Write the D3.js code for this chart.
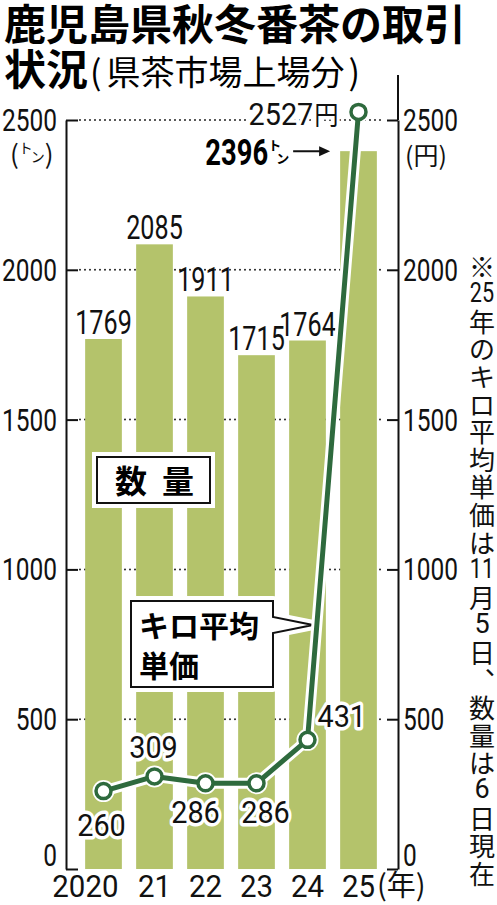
<!DOCTYPE html>
<html>
<head>
<meta charset="utf-8">
<script src="https://cdn.jsdelivr.net/npm/d3@7"></script>
<style>
  body { margin: 0; background: #fff; }
  svg { display: block; }
</style>
</head>
<body>
<div id="chart"></div>
<script>
// data
const years = ["2020", "21", "22", "23", "24", "25"];
const volume = [1769, 2085, 1911, 1715, 1764, 2396];   // トン
const price = [260, 309, 286, 286, 431, 2527];         // 円 (キロ平均単価)
const yTicks = [0, 500, 1000, 1500, 2000, 2500];
// where each price label sits next to its point
const priceLabelSide = ["below", "above", "belowLeft", "belowRight", "right", "left"];
const noteChars = ["※","25","年","の","キ","ロ","平","均","単","価","は","11","月","5","日","︑","数","量","は","6","日","現","在"];

const W = 497, H = 905;
const NUMF = "Roboto, 'Liberation Sans', sans-serif";
const JPF = "'Noto Sans CJK JP', 'Noto Sans', sans-serif";
const barColor = "#b4c36b";
const lineColor = "#2e6a3d";

const svg = d3.select("#chart").append("svg")
  .attr("width", W).attr("height", H);

//--- title
svg.append("text")
  .attr("x", 4).attr("y", 40)
  .attr("font-family", JPF).attr("font-weight", 700).attr("font-size", 42)
  .text("鹿児島県秋冬番茶の取引");
const t2 = svg.append("text")
  .attr("x", 4).attr("y", 85)
  .attr("font-family", JPF);
t2.append("tspan").attr("font-weight", 700).attr("font-size", 42).text("状況");
t2.append("tspan").attr("font-size", 34).attr("dx", 2).text("(");
t2.append("tspan").attr("font-size", 34).attr("dx", 5).text("県茶市場上場分");
t2.append("tspan").attr("font-size", 34).attr("dx", 4).text(")");

//--- scales
const xLeft = 66, xRight = 398;
const x = d3.scaleBand().domain(years).range([78, 384])
  .paddingInner(0.28).paddingOuter(0.14);
const y = d3.scaleLinear().domain([0, 2500]).range([869, 120]);

//dotted grid between the inner ticks
svg.append("g").selectAll("line")
  .data(yTicks.filter(d => d > 0))
  .enter().append("line")
  .attr("x1", xLeft + 14).attr("x2", xRight - 13)
  .attr("y1", d => y(d)).attr("y2", d => y(d))
  .attr("stroke", "#222").attr("stroke-width", 2)
  .attr("stroke-linecap", "round")
  .attr("stroke-dasharray", "0,5");

//bars
svg.append("g").selectAll("rect")
  .data(volume)
  .enter().append("rect")
  .attr("x", (d, i) => x(years[i]))
  .attr("y", d => y(d))
  .attr("width", x.bandwidth())
  .attr("height", d => y(0) - y(d))
  .attr("fill", barColor);

//axes
const leftAxis = svg.append("g")
  .attr("transform", "translate(" + xLeft + ",0)")
  .call(d3.axisLeft(y).tickValues(yTicks).tickFormat(d3.format("d")).tickSize(-12).tickSizeOuter(0));
const rightAxis = svg.append("g")
  .attr("transform", "translate(" + xRight + ",0)")
  .call(d3.axisRight(y).tickValues(yTicks).tickFormat(d3.format("d")).tickSize(-11).tickSizeOuter(0));
[leftAxis, rightAxis].forEach(function(a) {
  a.select(".domain").attr("stroke", "#111").attr("stroke-width", 2);
  a.selectAll(".tick line").attr("stroke", "#111").attr("stroke-width", 2);
  a.selectAll("text")
    .attr("font-family", NUMF).attr("font-size", 31).attr("fill", "#111")
    .attr("x", 0)
    .attr("dy", d => d === 0 ? "-0.1em" : "0.34em");
});
leftAxis.selectAll("text").attr("transform", "translate(-9,0) scale(0.79,1)");
rightAxis.selectAll("text").attr("transform", "translate(5,0) scale(0.79,1)");
// right axis rises above the plot
rightAxis.append("line")
  .attr("x1", 0).attr("x2", 0).attr("y1", 75).attr("y2", y(2500))
  .attr("stroke", "#111").attr("stroke-width", 2);

// unit labels
const unitL = svg.append("text").attr("x", 10).attr("y", 164)
  .attr("font-family", JPF).attr("font-size", 26).attr("fill", "#111");
unitL.append("tspan").text("(");
unitL.append("tspan").attr("font-size", 14).attr("dy", -11).text("ト");
unitL.append("tspan").attr("font-size", 14).attr("dy", 9).attr("dx", -2).text("ン");
unitL.append("tspan").attr("dy", 2).text(")");
svg.append("text").attr("x", 405).attr("y", 165)
  .attr("font-family", JPF).attr("font-size", 25).attr("fill", "#111")
  .text("(円)");

//--- legend box 数量
svg.append("rect").attr("x", 97).attr("y", 457).attr("width", 113).attr("height", 46)
  .attr("fill", "#fff").attr("stroke", "#fff").attr("stroke-width", 10);
svg.append("rect").attr("x", 97).attr("y", 457).attr("width", 113).attr("height", 46)
  .attr("fill", "#fff").attr("stroke", "#111").attr("stroke-width", 2);
svg.append("text").attr("x", 115).attr("y", 493)
  .attr("font-family", JPF).attr("font-weight", 700).attr("font-size", 32)
  .attr("letter-spacing", 15).text("数量");

//--- callout キロ平均単価
const callout = "M131,601H273V617L313,625L273,633V687H131Z";
svg.append("path").attr("d", callout)
  .attr("fill", "#fff").attr("stroke", "#fff").attr("stroke-width", 10)
  .attr("stroke-linejoin", "round");
svg.append("path").attr("d", callout)
  .attr("fill", "#fff").attr("stroke", "#111").attr("stroke-width", 2);
svg.append("text").attr("x", 139).attr("y", 637)
  .attr("font-family", JPF).attr("font-weight", 700).attr("font-size", 30)
  .text("キロ平均");
svg.append("text").attr("x", 139).attr("y", 677)
  .attr("font-family", JPF).attr("font-weight", 700).attr("font-size", 30)
  .text("単価");

//--- bar value labels (all but the last)
const barLbl = svg.append("g").selectAll("g")
  .data(volume.slice(0, 5))
  .enter().append("g")
  .attr("transform", (d, i) => "translate(" + (x(years[i]) + x.bandwidth() / 2) + "," + (y(d) - 5) + ") scale(0.74,1)");
barLbl.append("text")
  .attr("text-anchor", "middle")
  .attr("font-family", NUMF).attr("font-size", 34).attr("fill", "#111")
  .text(d => d);

// 2025 label with arrow
const lastI = volume.length - 1;
const ay = y(volume[lastI]);
const ax2 = x(years[lastI]) - 10, ax1 = ax2 - 37;
svg.append("line").attr("x1", ax1).attr("x2", ax2 - 4).attr("y1", ay).attr("y2", ay)
  .attr("stroke", "#111").attr("stroke-width", 2);
svg.append("path")
  .attr("d", "M" + ax2 + "," + ay + "l-11,-5v10z")
  .attr("fill", "#111");
svg.append("g")
  .attr("transform", "translate(" + (ax1 - 25) + "," + (ay + 14) + ") scale(0.74,1)")
  .append("text")
  .attr("text-anchor", "end")
  .attr("font-family", NUMF).attr("font-weight", 700).attr("font-size", 37)
  .text(volume[lastI]);
svg.append("text").attr("x", ax1 - 25).attr("y", ay - 1)
  .attr("font-family", JPF).attr("font-weight", 700).attr("font-size", 13).text("ト");
svg.append("text").attr("x", ax1 - 17).attr("y", ay + 12)
  .attr("font-family", JPF).attr("font-weight", 700).attr("font-size", 13).text("ン");

//--- price line
const pts = price.map((p, i) => [x(years[i]) + x.bandwidth() / 2, y(p)]);
const line = d3.line();
svg.append("path").attr("d", line(pts))
  .attr("fill", "none").attr("stroke", "#fff").attr("stroke-width", 11)
  .attr("stroke-linejoin", "round");
svg.append("g").selectAll("circle")
  .data(pts).enter().append("circle")
  .attr("cx", d => d[0]).attr("cy", d => d[1]).attr("r", 11)
  .attr("fill", "#fff");
svg.append("path").attr("d", line(pts))
  .attr("fill", "none").attr("stroke", lineColor).attr("stroke-width", 5)
  .attr("stroke-linejoin", "round");
svg.append("g").selectAll("circle")
  .data(pts).enter().append("circle")
  .attr("cx", d => d[0]).attr("cy", d => d[1]).attr("r", 7.5)
  .attr("fill", "#fff").attr("stroke", lineColor).attr("stroke-width", 3.5);

// price labels
function labelOffset(side) {
  switch (side) {
    case "below": return [-2, 45, "middle"];
    case "above": return [-1, -18, "middle"];
    case "belowLeft": return [-10, 40, "middle"];
    case "belowRight": return [9, 40, "middle"];
    case "right": return [10, -13, "start"];
    case "left": return [-20, 13, "end"];
    default: return [0, 0, "middle"];
  }
}
price.forEach(function(p, i) {
  const o = labelOffset(priceLabelSide[i]);
  const g = svg.append("g")
    .attr("transform", "translate(" + (pts[i][0] + o[0]) + "," + (pts[i][1] + o[1]) + ") scale(0.9,1)");
  const t = g.append("text")
    .attr("text-anchor", o[2])
    .attr("font-family", NUMF).attr("font-size", 32).attr("fill", "#111")
    .attr("stroke", "#fff").attr("stroke-width", 7).attr("stroke-linejoin", "round")
    .attr("paint-order", "stroke");
  t.append("tspan").text(p);
  if (i === lastI) {
    t.append("tspan").attr("font-family", JPF).attr("font-size", 27).attr("dx", 1).text("円");
  }
});

//--- year labels
svg.append("g").selectAll("g")
  .data(years).enter().append("g")
  .attr("transform", (d, i) => "translate(" + (x(d) + x.bandwidth() / 2 + (i === 0 ? 15 : 0)) + ",897) scale(0.95,1)")
  .append("text")
  .attr("text-anchor", (d, i) => i === 0 ? "end" : "middle")
  .attr("font-family", NUMF).attr("font-size", 31).attr("fill", "#111")
  .text(d => d);
svg.append("text").attr("x", 377).attr("y", 896)
  .attr("font-family", JPF).attr("font-size", 29).attr("fill", "#111")
  .text("(年)");

//--- vertical note on the right
svg.append("g").selectAll("text")
  .data(noteChars).enter().append("text")
  .attr("transform", (d, i) => "translate(482," + (265 + i * 27.6) + ")" + (/\d\d/.test(d) ? " scale(0.8,1)" : ""))
  .attr("text-anchor", "middle")
  .attr("dominant-baseline", "central")
  .attr("font-family", d => /\d/.test(d) ? NUMF : JPF)
  .attr("font-size", d => /\d/.test(d) ? 27 : 26)
  .attr("fill", "#111")
  .text(d => d);
</script>
</body>
</html>
